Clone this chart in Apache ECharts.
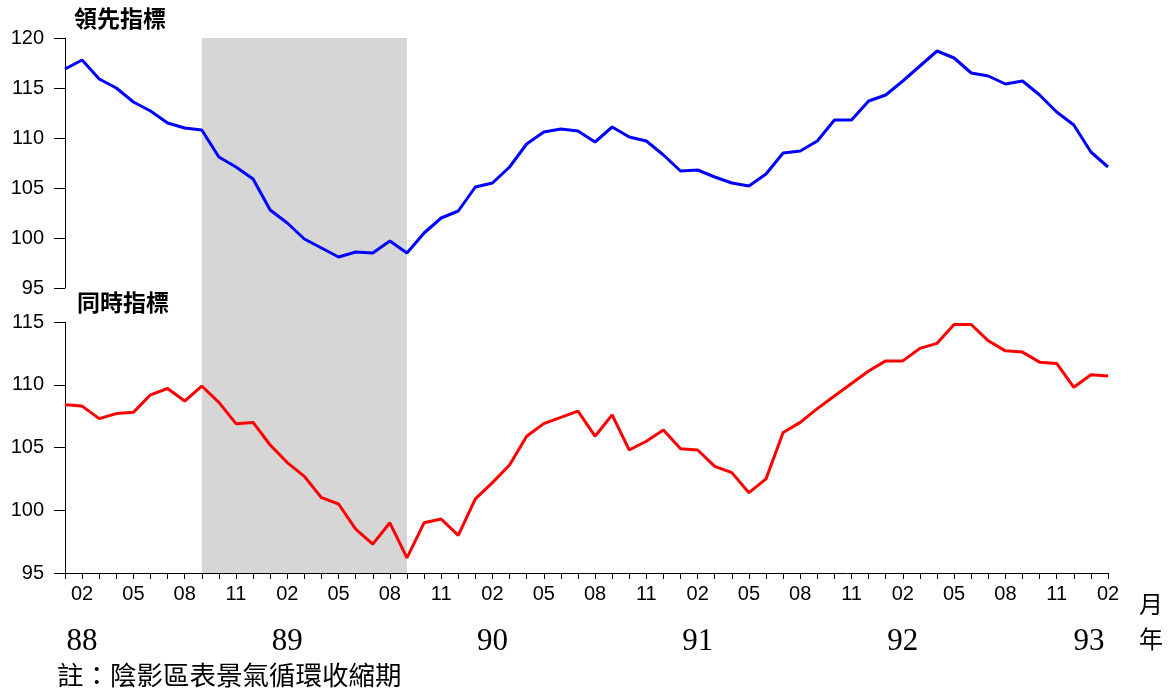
<!DOCTYPE html>
<html lang="zh-Hant" style="height: 100%; width: 100%; overflow: hidden">
<head>
    <meta charset="UTF-8">
    <title>領先指標 / 同時指標</title>
    <script type="text/javascript" src="https://cdn.jsdelivr.net/npm/echarts@6/dist/echarts.min.js"></script>
</head>
<body style="height: 100%; width: 100%; margin: 0">
<div id="container" style="height: 693px; width: 1174px"></div>
</body>
</html>

<script type="text/javascript">

    // years on the axis (民國), last one only goes to 02
    var years = ['88', '89', '90', '91', '92', '93'];
    var monthNames = ['01', '02', '03', '04', '05', '06', '07', '08', '09', '10', '11', '12'];

    var categories = [];
    years.forEach(function (y) {
        monthNames.forEach(function (m) {
            if (y === '93' && m > '02') return;
            categories.push(y + '/' + m);
        });
    });

    // 領先指標 88/01 - 93/02
    var leading = [
        116.9, 117.8, 115.9, 115.0, 113.6, 112.7, 111.5, 111.0, 110.8, 108.1,
        107.1, 105.9, 102.8, 101.5, 99.9, 99.0, 98.1, 98.6, 98.5, 99.7,
        98.5, 100.5, 102.0, 102.7, 105.1, 105.5, 107.1, 109.4, 110.6, 110.9,
        110.7, 109.6, 111.1, 110.1, 109.7, 108.3, 106.7, 106.8, 106.1, 105.5,
        105.2, 106.4, 108.5, 108.7, 109.7, 111.8, 111.8, 113.7, 114.3, 115.7,
        117.2, 118.7, 118.0, 116.5, 116.2, 115.4, 115.7, 114.3, 112.6, 111.3,
        108.6, 107.1
    ];

    // 同時指標 88/01 - 93/02
    var coincident = [
        108.4, 108.3, 107.3, 107.7, 107.8, 109.2, 109.7, 108.7, 109.9, 108.6,
        106.9, 107.0, 105.2, 103.8, 102.7, 101.0, 100.5, 98.5, 97.3, 99.0,
        96.2, 99.0, 99.3, 98.0, 100.9, 102.2, 103.6, 105.9, 106.9, 107.4,
        107.9, 105.9, 107.6, 104.8, 105.5, 106.4, 104.9, 104.8, 103.5, 103.0,
        101.4, 102.5, 106.2, 107.0, 108.1, 109.1, 110.1, 111.1, 111.9, 111.9,
        112.9, 113.3, 114.8, 114.8, 113.5, 112.7, 112.6, 111.8, 111.7, 109.8,
        110.8, 110.7
    ];

    // 景氣循環收縮期
    var contraction = ['88/09', '89/09'];

    var sans = 'Liberation Sans, Arial, sans-serif';
    var serif = 'Liberation Serif, Times New Roman, serif';
    var cjk = 'Noto Sans CJK TC, sans-serif';

    var dom = document.getElementById("container");
    var myChart = echarts.init(dom);

    var yAxisCommon = {
        type: 'value',
        interval: 5,
        axisLine: {show: true, lineStyle: {color: '#000', width: 1}},
        axisTick: {show: true, length: 11, lineStyle: {color: '#000'}},
        axisLabel: {color: '#000', fontSize: 20, fontFamily: sans, margin: 21},
        splitLine: {show: false}
    };

    var option = {
        animation: false,
        backgroundColor: '#fff',
        textStyle: {fontFamily: sans},
        title: [
            {text: '領先指標', left: 74, top: 7, padding: 0,
                textStyle: {fontFamily: cjk, fontSize: 23, fontWeight: 'bold', color: '#000'}},
            {text: '同時指標', left: 77, top: 291, padding: 0,
                textStyle: {fontFamily: cjk, fontSize: 23, fontWeight: 'bold', color: '#000'}},
            {text: '月', left: 1139, top: 592, padding: 0,
                textStyle: {fontFamily: cjk, fontSize: 24, fontWeight: 'normal', color: '#000'}},
            {text: '年', left: 1139, top: 627, padding: 0,
                textStyle: {fontFamily: cjk, fontSize: 24, fontWeight: 'normal', color: '#000'}},
            {text: '註：陰影區表景氣循環收縮期', left: 57, top: 662, padding: 0,
                textStyle: {fontFamily: cjk, fontSize: 26.5, fontWeight: 'normal', color: '#000'}}
        ],
        grid: [
            {left: 65, top: 38, width: 1043, height: 250},
            {left: 65, top: 322, width: 1043, height: 251},
            {left: 65, top: 38, width: 1043, height: 535}
        ],
        xAxis: [
            {gridIndex: 0, type: 'category', data: categories, boundaryGap: false, show: false},
            {
                gridIndex: 1, type: 'category', data: categories, boundaryGap: false, z: 10,
                axisLine: {show: true, lineStyle: {color: '#000', width: 1}},
                axisTick: {show: true, interval: 0, length: 6, lineStyle: {color: '#000'}},
                axisLabel: {
                    color: '#000', fontSize: 20, fontFamily: sans, margin: 11,
                    interval: function (i) { return i % 3 === 1; },
                    formatter: function (v) { return v.split('/')[1]; }
                },
                splitLine: {show: false}
            },
            {
                gridIndex: 1, type: 'category', data: categories, boundaryGap: false, position: 'bottom',
                axisLine: {show: false},
                axisTick: {show: false},
                axisLabel: {
                    color: '#000', fontSize: 31, fontFamily: serif, margin: 53,
                    interval: function (i, v) { return v.split('/')[1] === '02'; },
                    formatter: function (v) {
                        var y = v.split('/')[0];
                        return y === '93' ? '{r|' + y + '}' : y;
                    },
                    rich: {
                        r: {fontSize: 31, fontFamily: serif, color: '#000', padding: [0, 38, 0, 0]}
                    }
                },
                splitLine: {show: false}
            },
            {gridIndex: 2, type: 'category', data: categories, boundaryGap: false, show: false}
        ],
        yAxis: [
            Object.assign({gridIndex: 0, min: 95, max: 120}, yAxisCommon),
            Object.assign({gridIndex: 1, min: 95, max: 115}, yAxisCommon),
            {gridIndex: 2, type: 'value', min: 0, max: 1, show: false}
        ],
        series: [
            {
                name: 'shade',
                type: 'line',
                xAxisIndex: 3,
                yAxisIndex: 2,
                data: [],
                silent: true,
                z: 1,
                markArea: {
                    silent: true,
                    itemStyle: {color: '#d6d6d6'},
                    data: [[{xAxis: contraction[0]}, {xAxis: contraction[1]}]]
                }
            },
            {
                name: '領先指標',
                type: 'line',
                xAxisIndex: 0,
                yAxisIndex: 0,
                data: leading,
                symbol: 'none',
                z: 3,
                lineStyle: {color: '#0000ff', width: 3}
            },
            {
                name: '同時指標',
                type: 'line',
                xAxisIndex: 1,
                yAxisIndex: 1,
                data: coincident,
                symbol: 'none',
                z: 3,
                lineStyle: {color: '#ff0000', width: 3}
            }
        ]
    };

    myChart.setOption(option);

</script>
